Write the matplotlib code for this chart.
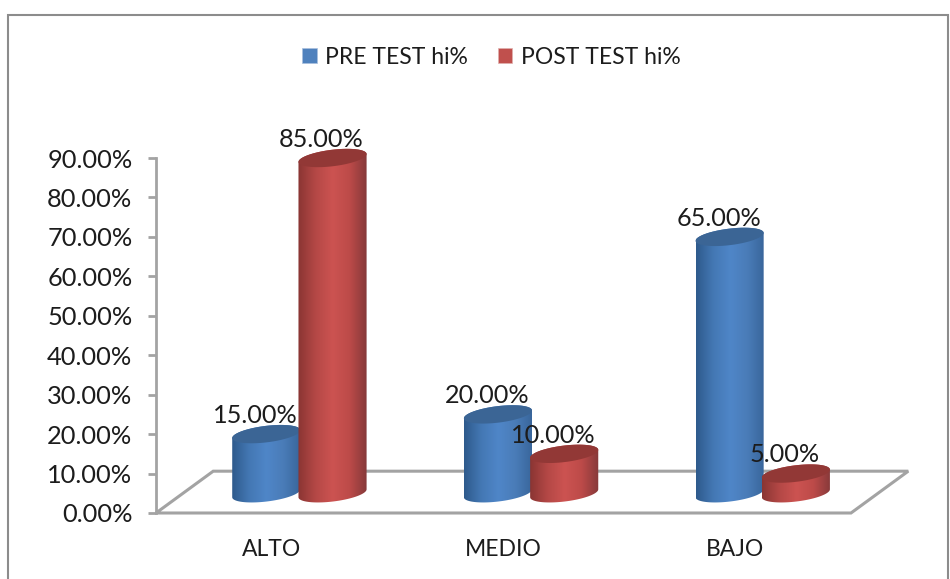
import matplotlib
matplotlib.use('Agg')
import matplotlib.pyplot as plt
import numpy as np
from matplotlib.colors import LinearSegmentedColormap
from matplotlib.patches import Patch, PathPatch, Polygon, Rectangle
from matplotlib.path import Path

categories = ['ALTO', 'MEDIO', 'BAJO']
pre_test = [15, 20, 65]
post_test = [85, 10, 5]
y_ticks = [0, 10, 20, 30, 40, 50, 60, 70, 80, 90]
series_names = ['PRE TEST hi%', 'POST TEST hi%']

plt.rcParams['font.family'] = ['Lato', 'DejaVu Sans']
TEXT = '#1c1c1c'
GREY = '#a3a3a3'

# shading across the cylinder body, and the darker lid
blue_cmap = LinearSegmentedColormap.from_list('blue', ['#2e5a8c', '#4478b4', '#4f86c8', '#4a7cb8', '#38659a'])
red_cmap = LinearSegmentedColormap.from_list('red', ['#8a3533', '#b44846', '#cc5351', '#bd4b49', '#86393a'])
blue_lid = '#3b6595'
red_lid = '#923836'

W, H = 950, 579
fig = plt.figure(figsize=(W / 100, H / 100), dpi=100, facecolor='white')
ax = fig.add_axes((156 / W, 1 - 513 / H, 695 / W, 355 / H))
ax.set_xlim(0, 3)
ax.set_ylim(0, 90)
ax.patch.set_visible(False)

# chart border, runs off the bottom of the picture
fig.add_artist(Rectangle((8 / W, -0.05), 940 / W, 1 - 15 / H + 0.05, transform=fig.transFigure,
                         fill=False, edgecolor='#8c8c8c', linewidth=1.5))

for side in ['top', 'right', 'bottom']:
    ax.spines[side].set_visible(False)
ax.spines['left'].set_color(GREY)
ax.spines['left'].set_linewidth(2)
ax.set_yticks(y_ticks)
ax.set_yticklabels([f'{v:.2f}%' for v in y_ticks], fontsize=18.3, color=TEXT)
ax.tick_params(axis='y', length=6, width=2, color=GREY, pad=11)
ax.set_xticks(np.arange(3) + 0.5)
ax.set_xticklabels(categories, fontsize=16.5, color=TEXT)
ax.tick_params(axis='x', length=0, pad=18.5)

# floor of the 3d box
depth_x, depth_y = 0.247, 10.6
ax.add_patch(Polygon([(0, 0), (3, 0), (3 + depth_x, depth_y), (depth_x, depth_y)], closed=True,
                     facecolor='white', edgecolor=GREY, linewidth=2.2, clip_on=False, zorder=1))

half_w = 0.147
ell_b, ell_s = 2.1, 1.0
base_y = 5.0
bar_dx = 0.143


def ellipse(cx, cy, t):
    return np.column_stack([cx + half_w * np.cos(t), cy + ell_b * np.sin(t) + ell_s * np.cos(t)])


def cylinder(cx, value, cmap, lid, z):
    top = base_y + value
    lower = ellipse(cx, base_y, np.linspace(np.pi, 2 * np.pi, 60))
    upper = ellipse(cx, top, np.linspace(0, np.pi, 60))
    verts = np.vstack([lower, upper, lower[:1]])
    body = PathPatch(Path(verts), facecolor='none', edgecolor='none', transform=ax.transData)
    ax.add_patch(body)
    im = ax.imshow(np.linspace(0, 1, 128).reshape(1, -1), cmap=cmap, aspect='auto', zorder=z,
                   extent=(cx - half_w, cx + half_w, base_y - 5, top + 5))
    im.set_clip_box(fig.bbox)
    im.set_clip_path(body)
    ax.add_patch(Polygon(ellipse(cx, top, np.linspace(0, 2 * np.pi, 120)), closed=True, facecolor=lid,
                         edgecolor='none', clip_on=False, zorder=z + 0.1))


for i in range(len(categories)):
    cx = i + 0.5 + 0.119
    cylinder(cx - bar_dx, pre_test[i], blue_cmap, blue_lid, 2 + i)
    cylinder(cx + bar_dx, post_test[i], red_cmap, red_lid, 2.3 + i)
    # value labels sit a fixed distance above the value
    for x, v in [(cx - bar_dx, pre_test[i]), (cx + bar_dx, post_test[i])]:
        ax.annotate(f'{v:.2f}%', (x, v), xytext=(-11, 38.5), textcoords='offset pixels', ha='center',
                    va='center', fontsize=18.2, color=TEXT, zorder=10, annotation_clip=False)

ax.set_xlim(0, 3)
ax.set_ylim(0, 90)

handles = [Patch(facecolor='#4f81bd', edgecolor='#a9c0de', linewidth=0.5),
           Patch(facecolor='#c0504d', edgecolor='#e0b0ae', linewidth=0.5)]
fig.legend(handles, series_names, ncols=2, loc='center', bbox_to_anchor=(491.5 / W, 1 - 57 / H), frameon=False,
           fontsize=16.5, labelcolor=TEXT, handlelength=0.62, handleheight=0.62, handletextpad=0.37,
           columnspacing=1.32)

fig.savefig('out.png', dpi=100)
